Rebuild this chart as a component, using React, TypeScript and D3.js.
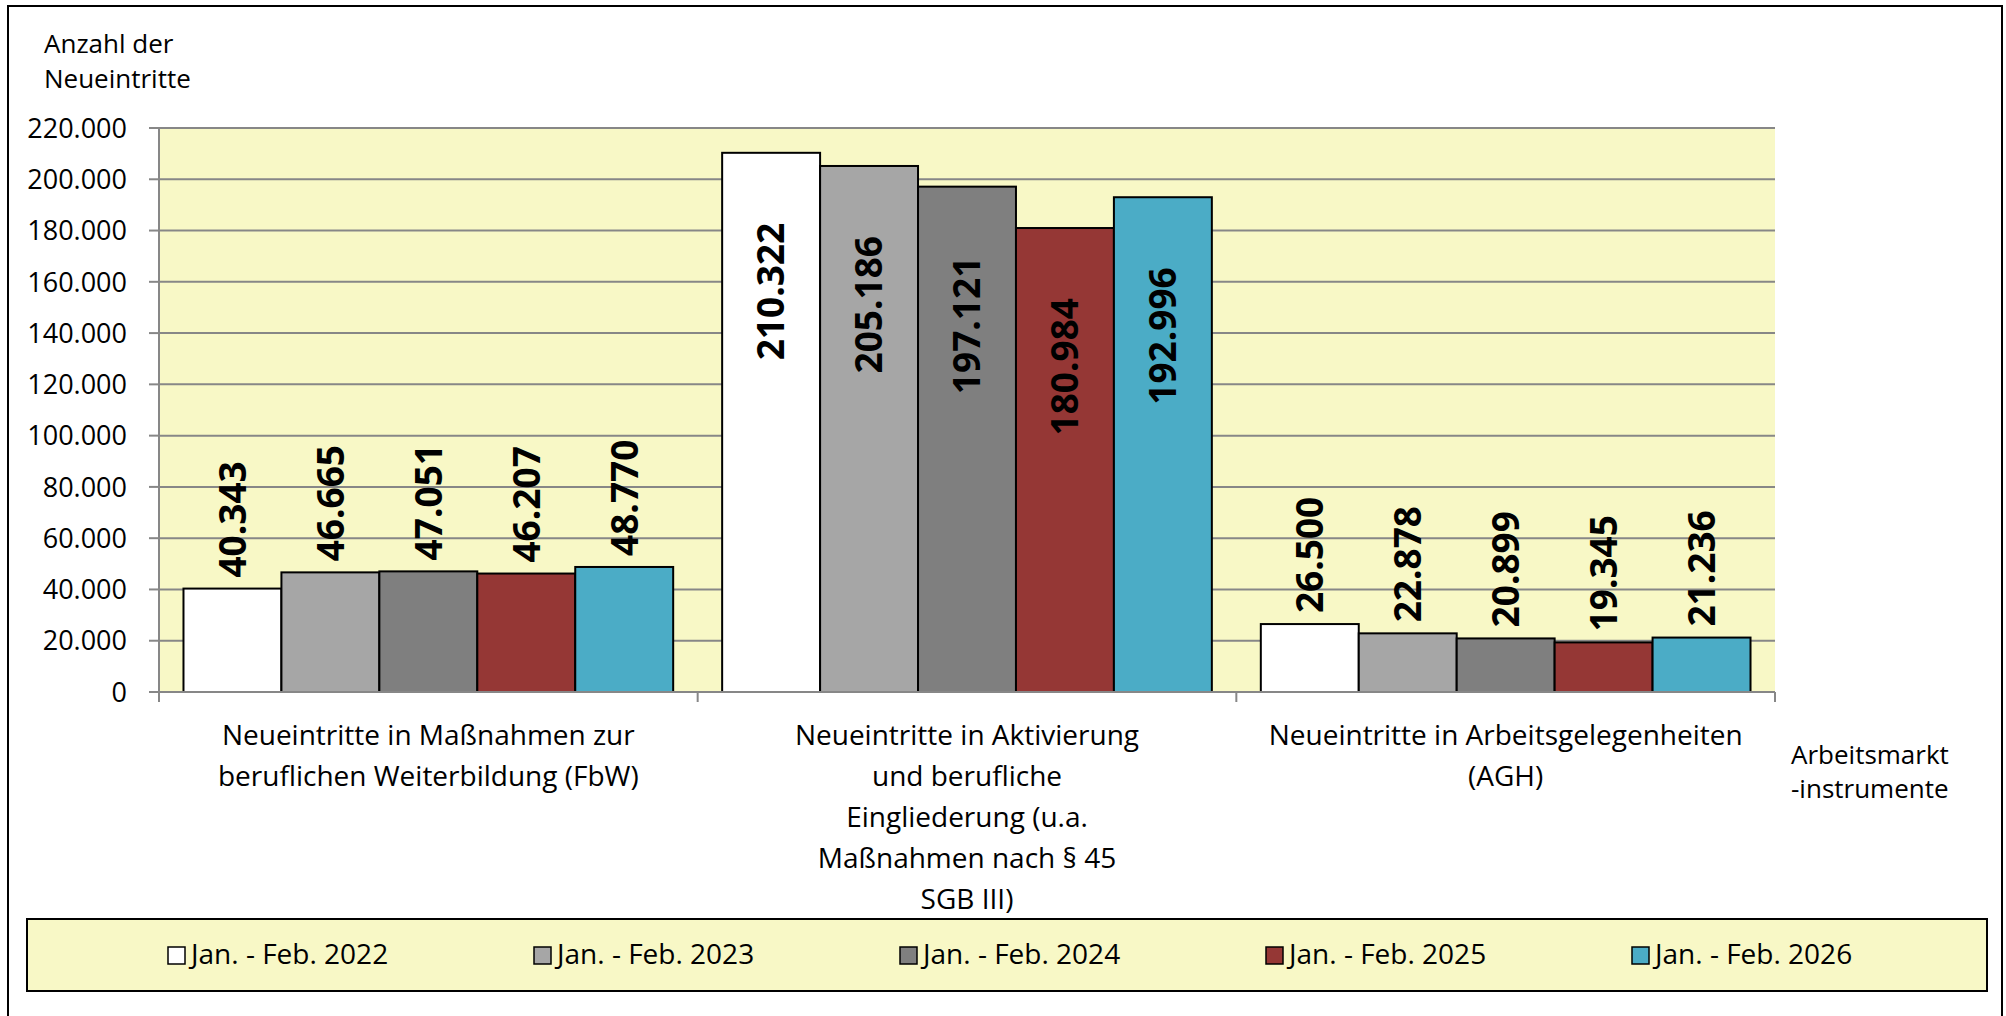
import React from "react";
import * as d3 from "d3";

// category labels, already wrapped as in the original
const categories = [
  ["Neueintritte in Maßnahmen zur", "beruflichen Weiterbildung (FbW)"],
  ["Neueintritte in Aktivierung", "und berufliche", "Eingliederung (u.a.", "Maßnahmen nach § 45", "SGB III)"],
  ["Neueintritte in Arbeitsgelegenheiten", "(AGH)"],
];

const seriesNames = [
  "Jan. - Feb. 2022",
  "Jan. - Feb. 2023",
  "Jan. - Feb. 2024",
  "Jan. - Feb. 2025",
  "Jan. - Feb. 2026",
];

const v2022 = [40343, 210322, 26500];
const v2023 = [46665, 205186, 22878];
const v2024 = [47051, 197121, 20899];
const v2025 = [46207, 180984, 19345];
const v2026 = [48770, 192996, 21236];

const seriesColors = ["#FFFFFF", "#A6A6A6", "#7F7F7F", "#953735", "#4BACC6"];

const yTicks = [0, 20000, 40000, 60000, 80000, 100000, 120000, 140000, 160000, 180000, 200000, 220000];

const yTitle = ["Anzahl der", "Neueintritte"];
const xTitle = ["Arbeitsmarkt", "-instrumente"];

const de = d3.formatLocale({ decimal: ",", thousands: ".", grouping: [3], currency: ["", " €"] });
const fmt = de.format(",d");

const FONT = "'Open Sans', 'DejaVu Sans', sans-serif";
const BG = "#F8F8C6";
const GRID = "#878787";

export default function App() {
  const W = 2006;
  const H = 1016;
  const left = 159, right = 1775, top = 128, bottom = 692;

  const series = [v2022, v2023, v2024, v2025, v2026];

  const x0 = d3.scaleBand<number>().domain(d3.range(categories.length)).range([left, right]).padding(0);
  const x1 = d3
    .scaleBand<number>()
    .domain(d3.range(series.length))
    .range([0, x0.bandwidth()])
    .paddingInner(0)
    .paddingOuter(0.25);
  const y = d3.scaleLinear().domain([0, 220000]).range([bottom, top]);

  const legendX = d3.scaleLinear().domain([0, seriesNames.length - 1]).range([168, 1632]);

  return (
    <svg
      width={W}
      height={H}
      style={{ position: "absolute", left: 0, top: 0, display: "block", background: "#fff" }}
      fontFamily={FONT}
    >
      {/* outer frame */}
      <rect x={8} y={6} width={1994} height={1030} fill="none" stroke="#000" strokeWidth={2} />

      {/* plot background */}
      <rect x={left} y={top} width={right - left} height={bottom - top} fill={BG} />

      {/* gridlines */}
      {yTicks.filter((t) => t > 0).map((t) => (
        <line key={t} x1={left} x2={right} y1={y(t)} y2={y(t)} stroke={GRID} strokeWidth={2} />
      ))}

      {/* y axis */}
      <line x1={left} x2={left} y1={top} y2={bottom} stroke={GRID} strokeWidth={2} />
      {yTicks.map((t) => (
        <g key={t}>
          <line x1={left - 10} x2={left} y1={y(t)} y2={y(t)} stroke={GRID} strokeWidth={2} />
          <text x={127} y={y(t)} dy="0.36em" textAnchor="end" fontSize={27} fill="#000">
            {fmt(t)}
          </text>
        </g>
      ))}
      {yTitle.map((s, i) => (
        <text key={s} x={44} y={53 + i * 35} fontSize={26} fill="#000">
          {s}
        </text>
      ))}

      {/* bars */}
      {categories.map((_, ci) => (
        <g key={ci} transform={`translate(${x0(ci)},0)`}>
          {series.map((vals, si) => {
            const v = vals[ci];
            const bx = x1(si)!;
            const bw = x1.bandwidth();
            const cx = bx + bw / 2;
            const inside = v > 150000;
            const ly = inside ? y(v) + 70 : y(v) - 11;
            return (
              <g key={si}>
                <rect
                  x={bx}
                  y={y(v)}
                  width={bw}
                  height={bottom - y(v)}
                  fill={seriesColors[si]}
                  stroke="#000"
                  strokeWidth={2}
                />
                <text
                  transform={`translate(${cx},${ly}) rotate(-90)`}
                  textAnchor={inside ? "end" : "start"}
                  dy="0.36em"
                  fontSize={37}
                  fontWeight="bold"
                  fill="#000"
                >
                  {fmt(v)}
                </text>
              </g>
            );
          })}
        </g>
      ))}

      {/* x axis */}
      <line x1={left} x2={right} y1={bottom} y2={bottom} stroke={GRID} strokeWidth={2} />
      {d3.range(categories.length + 1).map((i) => {
        const xx = i < categories.length ? x0(i)! : right;
        return <line key={i} x1={xx} x2={xx} y1={bottom} y2={bottom + 10} stroke={GRID} strokeWidth={2} />;
      })}
      {categories.map((lines, ci) => (
        <text key={ci} textAnchor="middle" fontSize={28} fill="#000">
          {lines.map((l, li) => (
            <tspan key={li} x={x0(ci)! + x0.bandwidth() / 2} y={745 + li * 41}>
              {l}
            </tspan>
          ))}
        </text>
      ))}
      {xTitle.map((s, i) => (
        <text key={s} x={1791} y={764 + i * 34} fontSize={26} fill="#000">
          {s}
        </text>
      ))}

      {/* legend */}
      <rect x={27} y={919} width={1960} height={72} fill={BG} stroke="#000" strokeWidth={2} />
      {seriesNames.map((name, i) => (
        <g key={name} transform={`translate(${legendX(i)},0)`}>
          <rect x={0} y={947} width={17} height={17} fill={seriesColors[i]} stroke="#000" strokeWidth={1.5} />
          <text x={23} y={964} fontSize={28} fill="#000">
            {name}
          </text>
        </g>
      ))}
    </svg>
  );
}
